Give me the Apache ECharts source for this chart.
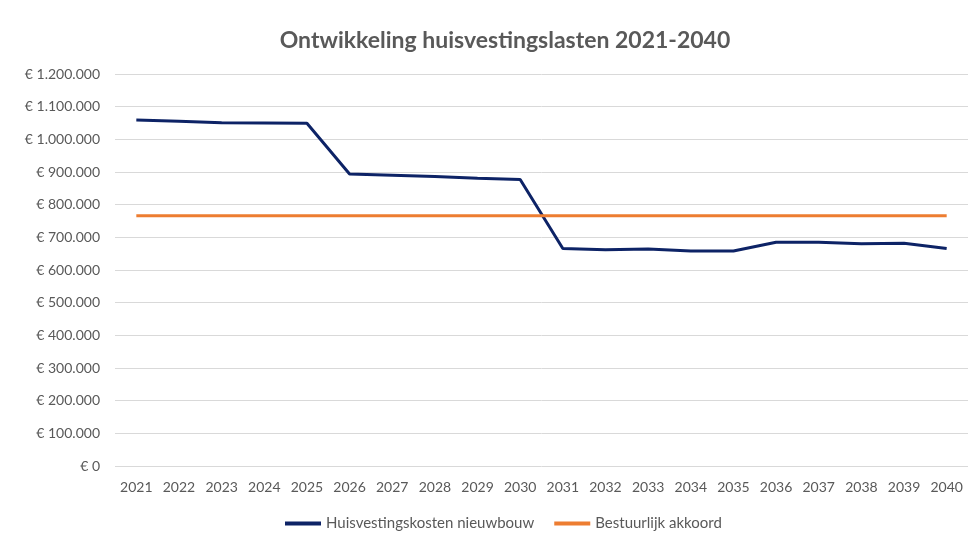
<!DOCTYPE html>
<html lang="nl">
<head>
    <meta charset="UTF-8">
    <title>Ontwikkeling huisvestingslasten</title>
    <script src="https://cdn.jsdelivr.net/npm/echarts@6/dist/echarts.min.js"></script>
    <style>
        html, body { margin: 0; padding: 0; background: #fff; }
        #chart { width: 975px; height: 543px; }
    </style>
</head>
<body>
<div id="chart"></div>
<script type="text/javascript">
    const years = ['2021', '2022', '2023', '2024', '2025', '2026', '2027', '2028', '2029', '2030',
        '2031', '2032', '2033', '2034', '2035', '2036', '2037', '2038', '2039', '2040'];
    const nieuwbouw = [1059000, 1055000, 1051000, 1050000, 1049000, 894000, 890000, 886000, 881000, 877000,
        666000, 662000, 664000, 658000, 658000, 685000, 685000, 680000, 682000, 666000];
    const akkoord = [766000, 766000, 766000, 766000, 766000, 766000, 766000, 766000, 766000, 766000,
        766000, 766000, 766000, 766000, 766000, 766000, 766000, 766000, 766000, 766000];

    const font = 'Lato, "Open Sans", sans-serif';
    const grey = '#595959';

    // € 1.200.000 style labels
    function euro(v) {
        return '€ ' + String(v).replace(/\B(?=(\d{3})+(?!\d))/g, '.');
    }

    let chart = echarts.init(document.getElementById('chart'));
    chart.setOption({
        animation: false,
        title: {
            text: 'Ontwikkeling huisvestingslasten 2021-2040',
            left: 500,
            textAlign: 'center',
            top: 24,
            textStyle: { fontFamily: font, fontSize: 23, fontWeight: 'bold', color: grey }
        },
        legend: {
            bottom: 7,
            left: 280,
            itemGap: 20,
            itemWidth: 36,
            itemHeight: 4,
            icon: 'rect',
            textStyle: { fontFamily: font, fontSize: 15, color: grey },
            data: ['Huisvestingskosten nieuwbouw', 'Bestuurlijk akkoord']
        },
        grid: { left: 115, right: 7, top: 74, bottom: 77, containLabel: false },
        xAxis: {
            type: 'category',
            data: years,
            boundaryGap: true,
            axisLine: { show: false },
            axisTick: { show: false },
            axisLabel: { fontFamily: font, fontSize: 14, color: grey, margin: 14, interval: 0 }
        },
        yAxis: {
            type: 'value',
            min: 0,
            max: 1200000,
            interval: 100000,
            axisLine: { show: false },
            axisTick: { show: false },
            axisLabel: { fontFamily: font, fontSize: 14, color: grey, margin: 15, formatter: euro },
            splitLine: { lineStyle: { color: '#d9d9d9', width: 1 } }
        },
        series: [
            {
                name: 'Huisvestingskosten nieuwbouw',
                type: 'line',
                data: nieuwbouw,
                symbol: 'none',
                lineStyle: { color: '#0d2366', width: 3 },
                itemStyle: { color: '#0d2366' }
            },
            {
                name: 'Bestuurlijk akkoord',
                type: 'line',
                data: akkoord,
                symbol: 'none',
                lineStyle: { color: '#ed7d31', width: 3 },
                itemStyle: { color: '#ed7d31' }
            }
        ]
    });
</script>
</body>
</html>
